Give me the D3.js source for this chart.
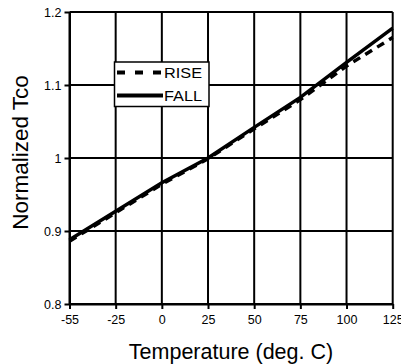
<!DOCTYPE html>
<html>
<head>
<meta charset="utf-8">
<script src="https://cdn.jsdelivr.net/npm/d3@7"></script>
<style>
  html, body { margin: 0; padding: 0; background: #fff; }
  svg { display: block; }
  text { font-family: "Liberation Sans", Arial, sans-serif; fill: #000; }
</style>
</head>
<body>
<svg id="chart" width="401" height="364"></svg>
<script>
const categories = [-55, -25, 0, 25, 50, 75, 100, 125];
const riseValues = [0.886, 0.925, 0.964, 0.999, 1.040, 1.080, 1.126, 1.165];
const fallValues = [0.888, 0.927, 0.966, 1.000, 1.042, 1.083, 1.131, 1.178];
const yTicks = [0.8, 0.9, 1.0, 1.1, 1.2];
const yTickLabels = ["0.8", "0.9", "1", "1.1", "1.2"];
const seriesNames = ["RISE", "FALL"];

(function () {
const svg = d3.select("#chart");
const pL = 69.5, pR = 392.7, pT = 12, pB = 304;

const x = d3.scalePoint().domain(categories).range([pL, pR]).padding(0);
const y = d3.scaleLinear().domain([0.8, 1.2]).range([pB, pT]);

// gridlines
svg.append("g").selectAll("line").data(categories).join("line")
  .attr("x1", d => x(d)).attr("x2", d => x(d))
  .attr("y1", pT).attr("y2", pB)
  .attr("stroke", "#000").attr("stroke-width", 2);
svg.append("g").selectAll("line").data(yTicks).join("line")
  .attr("x1", pL).attr("x2", pR)
  .attr("y1", d => y(d)).attr("y2", d => y(d))
  .attr("stroke", "#000").attr("stroke-width", 2);

// axes
const yAxis = d3.axisLeft(y).tickValues(yTicks)
  .tickFormat((d, i) => yTickLabels[i]).tickSize(5).tickSizeOuter(0).tickPadding(3);
const gy = svg.append("g").attr("transform", `translate(${pL},0)`).call(yAxis);
gy.select(".domain").attr("stroke", "#000").attr("stroke-width", 2);
gy.selectAll(".tick line").attr("stroke", "#000").attr("stroke-width", 2);
gy.selectAll(".tick text").attr("font-size", 12.5).attr("font-family", "Liberation Sans, Arial, sans-serif");

const xAxis = d3.axisBottom(x).tickSize(5).tickSizeOuter(0).tickPadding(6);
const gx = svg.append("g").attr("transform", `translate(0,${pB})`).call(xAxis);
gx.select(".domain").attr("stroke", "#000").attr("stroke-width", 2);
gx.selectAll(".tick line").attr("stroke", "#000").attr("stroke-width", 2);
gx.selectAll(".tick text").attr("font-size", 12.5).attr("font-family", "Liberation Sans, Arial, sans-serif");

// lines
const line = d3.line().x((d, i) => x(categories[i])).y(d => y(d));
svg.append("path").datum(fallValues).attr("d", line)
  .attr("fill", "none").attr("stroke", "#000").attr("stroke-width", 3.5);
svg.append("path").datum(riseValues).attr("d", line)
  .attr("fill", "none").attr("stroke", "#000").attr("stroke-width", 3.5)
  .attr("stroke-dasharray", "8,6");

// legend
const lg = svg.append("g");
lg.append("rect").attr("x", 114.5).attr("y", 62).attr("width", 94.5).attr("height", 44.5)
  .attr("fill", "#fff").attr("stroke", "#000").attr("stroke-width", 1.5);
const rows = [{name: seriesNames[0], dash: "8,10", yy: 72.5}, {name: seriesNames[1], dash: null, yy: 95.5}];
rows.forEach(r => {
  lg.append("line").attr("x1", 117).attr("x2", 163).attr("y1", r.yy).attr("y2", r.yy)
    .attr("stroke", "#000").attr("stroke-width", 4).attr("stroke-dasharray", r.dash);
  lg.append("text").attr("x", 164).attr("y", r.yy + 5).attr("font-size", 14)
    .attr("textLength", 38).attr("lengthAdjust", "spacingAndGlyphs").text(r.name);
});

// titles
svg.append("text").attr("x", 231).attr("y", 358.5)
  .attr("text-anchor", "middle").attr("font-size", 21.5).text("Temperature (deg. C)");
svg.append("text").attr("transform", `translate(28,152.5) rotate(-90)`)
  .attr("text-anchor", "middle").attr("font-size", 22.5).text("Normalized Tco");
})();
</script>
</body>
</html>
